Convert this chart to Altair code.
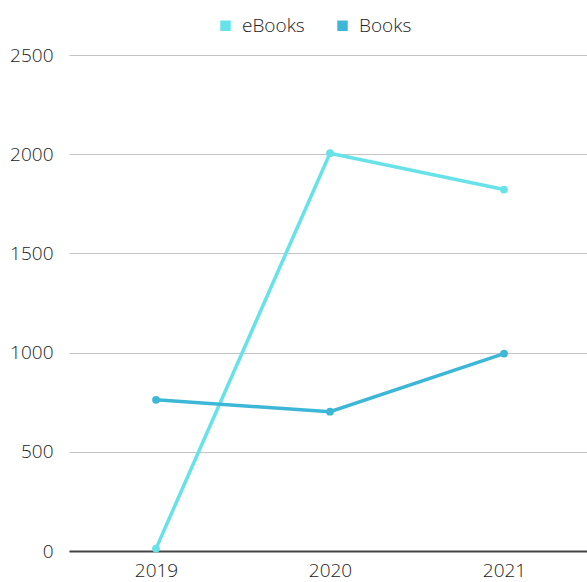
import altair as alt
import pandas as pd

years = ["2019", "2020", "2021"]
ebooks = [12, 2005, 1822]
books = [762, 702, 995]
series_names = ["eBooks", "Books"]
colors = ["#66E2E8", "#3DB7D7"]

rows = []
for name, vals in zip(series_names, [ebooks, books]):
    for y, v in zip(years, vals):
        rows.append({"Year": y, "Series": name, "Value": v})
df = pd.DataFrame(rows)

font = "Open Sans"

base = alt.Chart(df).encode(
    x=alt.X("Year:O", scale=alt.Scale(type="point", padding=0.4885, align=0.5118),
            axis=alt.Axis(title=None, labelAngle=0, labelFontSize=19, labelColor="#222",
                          labelFont=font, labelFontWeight=300, ticks=False,
                          domainColor="#444", domainWidth=2, labelPadding=10, grid=False)),
    y=alt.Y("Value:Q", scale=alt.Scale(domain=[0, 2500]),
            axis=alt.Axis(title=None, values=[0, 500, 1000, 1500, 2000, 2500], format="d",
                          labelFontSize=19, labelColor="#222", labelFont=font,
                          labelFontWeight=300, ticks=False,
                          domain=False, gridColor="#c4c4c4", gridWidth=1, labelPadding=16)),
    color=alt.Color("Series:N", scale=alt.Scale(domain=series_names, range=colors),
                    sort=series_names,
                    legend=alt.Legend(title=None, orient="none", direction="horizontal",
                                      legendX=147, legendY=-39, symbolType="square",
                                      symbolSize=110, labelFontSize=19, labelFont=font,
                                      labelFontWeight=300, labelColor="#222", labelOffset=7,
                                      columnPadding=28, symbolStrokeWidth=0)),
)

lines = base.mark_line(strokeWidth=3.5)
points = base.mark_circle(size=60, opacity=1)

chart = alt.layer(lines, points).properties(
    width=518, height=496,
    padding={"left": 69, "top": 55, "right": 0, "bottom": 31},
    autosize=alt.AutoSizeParams(type="none"),
).configure_view(stroke=None)

chart.save("out.html", embed_options={"renderer": "svg", "actions": False})
